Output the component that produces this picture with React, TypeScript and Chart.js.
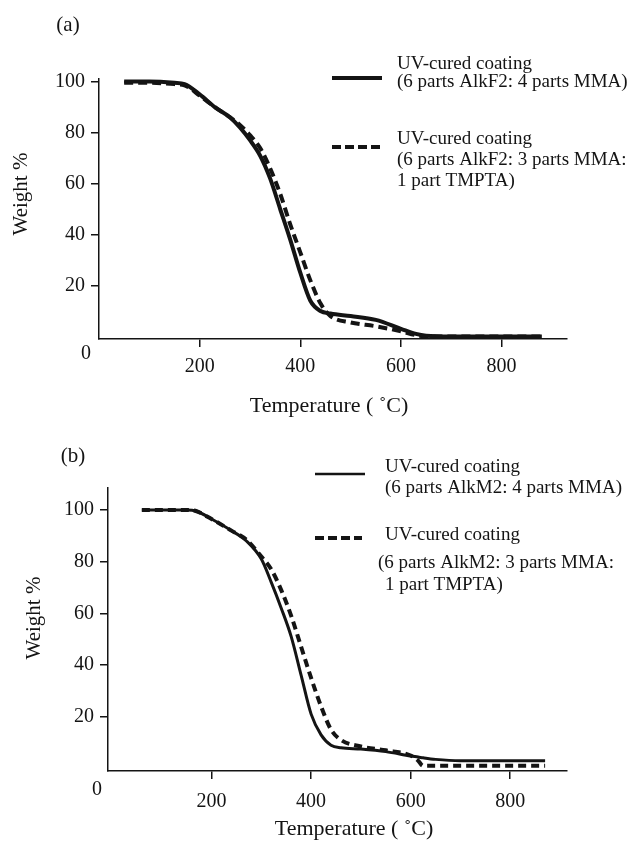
import React, { useEffect, useRef } from "react";
import { Chart, registerables } from "chart.js";

Chart.register(...registerables);

const FONT = "'Liberation Serif', 'Times New Roman', serif";
const INK = "#141414";

// ---- Panel (a) data ----
const tempA = [50, 100, 150, 170, 200, 230, 260, 280, 300, 320, 340, 360, 380, 400, 420, 440, 460, 500, 550, 600, 630, 650, 700, 800, 880];
const solidA = [100, 100, 99.5, 99, 95, 90, 86, 82, 77, 71, 62, 50, 38, 25, 14, 10, 9, 8, 6.5, 3, 1, 0.3, 0, 0, 0];
const dashedA = [99.5, 99.5, 99, 98.5, 94.5, 90, 86, 83, 79, 74, 66, 56, 44, 33, 22, 13, 8, 5.5, 4, 2, 0.5, 0, 0, 0, 0];

// ---- Panel (b) data ----
const tempB = [60, 100, 150, 170, 200, 240, 270, 300, 320, 340, 360, 380, 400, 420, 440, 460, 500, 550, 600, 615, 625, 650, 700, 800, 870];
const solidB = [100, 100, 100, 99.5, 96.5, 92, 88, 81, 72, 62, 51, 36, 21, 13, 9, 8, 7.5, 6.5, 4.8, 4.4, 4.1, 3.5, 3, 3, 3];
const dashedB = [100, 100, 100, 99.5, 96.5, 92, 88.5, 82, 77, 69, 59, 47, 35, 24, 15, 11, 8.5, 7, 5, 3, 1, 1, 1, 1, 1];

const xTicks = [200, 400, 600, 800];
const yTicks = [20, 40, 60, 80, 100];

const legendA = [
  ["UV-cured coating", "(6 parts AlkF2: 4 parts MMA)"],
  ["UV-cured coating", "(6 parts AlkF2: 3 parts MMA:", "1 part TMPTA)"],
];
const legendB = [
  ["UV-cured coating", "(6 parts AlkM2: 4 parts MMA)"],
  ["UV-cured coating", "(6 parts AlkM2: 3 parts MMA:", "1 part TMPTA)"],
];

type Panel = {
  tag: string;
  temps: number[];
  solid: number[];
  dashed: number[];
  legend: string[][];
  height: number;
  xMin: number;
  xMax: number;
  yMin: number;
  yMax: number;
  padTop: number;
  padRight: number;
  yWidth: number;
  xHeight: number;
  xPad: number;
  solidWidth: number;
  dashedWidth: number;
  dash: number[];
  tagPos: [number, number];
  yTitlePos: [number, number];
  xTitlePos: [number, number];
  zeroOff: [number, number];
  legendLayout: {
    sample: [number, number, number, number]; // x1, x2, y, width
    lines: [number, number][]; // x, y per line
  }[];
};

const panels: Panel[] = [
  {
    tag: "(a)",
    temps: tempA,
    solid: solidA,
    dashed: dashedA,
    legend: legendA,
    height: 425,
    xMin: 0,
    xMax: 930,
    yMin: -1,
    yMax: 101,
    padTop: 79,
    padRight: 72,
    yWidth: 99,
    xHeight: 86,
    xPad: 8,
    solidWidth: 4,
    dashedWidth: 4,
    dash: [9, 5],
    tagPos: [68, 25],
    yTitlePos: [21, 194],
    xTitlePos: [329, 406],
    zeroOff: [-13, 15],
    legendLayout: [
      { sample: [332, 382, 78, 4], lines: [[397, 64], [397, 82]] },
      { sample: [332, 382, 147, 4], lines: [[397, 139], [397, 160], [397, 181]] },
    ],
  },
  {
    tag: "(b)",
    temps: tempB,
    solid: solidB,
    dashed: dashedB,
    legend: legendB,
    height: 428,
    xMin: -8,
    xMax: 914,
    yMin: -1,
    yMax: 108.5,
    padTop: 63,
    padRight: 72,
    yWidth: 108,
    xHeight: 82,
    xPad: 11,
    solidWidth: 3,
    dashedWidth: 4,
    dash: [8, 5],
    tagPos: [73, 31],
    yTitlePos: [34, 193],
    xTitlePos: [354, 404],
    zeroOff: [-11, 19],
    legendLayout: [
      { sample: [315, 365, 49, 2.5], lines: [[385, 42], [385, 63]] },
      { sample: [315, 362, 113, 4], lines: [[385, 110], [378, 138], [385, 160]] },
    ],
  },
];

function annotationPlugin(p: Panel) {
  return {
    id: "annot" + p.tag,
    afterDraw(chart: any) {
      const ctx = chart.ctx as CanvasRenderingContext2D;
      const area = chart.chartArea;
      ctx.save();
      ctx.fillStyle = INK;
      ctx.strokeStyle = INK;
      ctx.textBaseline = "middle";

      // panel tag
      ctx.font = `21px ${FONT}`;
      ctx.textAlign = "center";
      ctx.fillText(p.tag, p.tagPos[0], p.tagPos[1]);

      // zero at the corner
      ctx.font = `20px ${FONT}`;
      ctx.fillText("0", area.left + p.zeroOff[0], area.bottom + p.zeroOff[1]);

      // x title
      ctx.font = `22px ${FONT}`;
      ctx.fillText("Temperature ( \u02DAC)", p.xTitlePos[0], p.xTitlePos[1]);

      // y title
      ctx.save();
      ctx.translate(p.yTitlePos[0], p.yTitlePos[1]);
      ctx.rotate(-Math.PI / 2);
      ctx.font = `21px ${FONT}`;
      ctx.fillText("Weight %", 0, 0);
      ctx.restore();

      // legend
      ctx.font = `19px ${FONT}`;
      ctx.textAlign = "left";
      p.legend.forEach((entry, i) => {
        const lay = p.legendLayout[i];
        const [x1, x2, y, w] = lay.sample;
        ctx.beginPath();
        ctx.lineWidth = w;
        ctx.setLineDash(i === 0 ? [] : [9, 4]);
        ctx.moveTo(x1, y);
        ctx.lineTo(x2, y);
        ctx.stroke();
        ctx.setLineDash([]);
        entry.forEach((txt, j) => {
          const [tx, ty] = lay.lines[j];
          ctx.fillText(txt, tx, ty);
        });
      });
      ctx.restore();
    },
  };
}

function PanelChart({ p }: { p: Panel }) {
  const ref = useRef<HTMLCanvasElement | null>(null);
  useEffect(() => {
    if (!ref.current) return;
    const tickFont = { family: FONT, size: 20 };
    const chart = new Chart(ref.current, {
      type: "line",
      data: {
        datasets: [
          {
            label: p.legend[0].join(" "),
            data: p.temps.map((t, i) => ({ x: t, y: p.solid[i] })),
            borderColor: INK,
            borderWidth: p.solidWidth,
            pointRadius: 0,
            cubicInterpolationMode: "monotone",
            fill: false,
          },
          {
            label: p.legend[1].join(" "),
            data: p.temps.map((t, i) => ({ x: t, y: p.dashed[i] })),
            borderColor: INK,
            borderWidth: p.dashedWidth,
            borderDash: p.dash,
            pointRadius: 0,
            cubicInterpolationMode: "monotone",
            fill: false,
          },
        ],
      },
      options: {
        responsive: false,
        animation: false,
        layout: { padding: { top: p.padTop, right: p.padRight, bottom: 0, left: 0 } },
        plugins: { legend: { display: false }, tooltip: { enabled: false }, title: { display: false } },
        scales: {
          x: {
            type: "linear",
            min: p.xMin,
            max: p.xMax,
            afterBuildTicks: (s: any) => {
              s.ticks = xTicks.map((v) => ({ value: v }));
            },
            afterFit: (s: any) => {
              s.height = p.xHeight;
            },
            grid: { drawOnChartArea: false, drawTicks: true, tickLength: 8, color: INK, lineWidth: 1.5 },
            border: { display: true, color: INK, width: 1.5 },
            ticks: { font: tickFont, color: INK, padding: p.xPad, maxRotation: 0, autoSkip: false },
          },
          y: {
            type: "linear",
            min: p.yMin,
            max: p.yMax,
            afterBuildTicks: (s: any) => {
              s.ticks = yTicks.map((v) => ({ value: v }));
            },
            afterFit: (s: any) => {
              s.width = p.yWidth;
            },
            grid: { drawOnChartArea: false, drawTicks: true, tickLength: 8, color: INK, lineWidth: 1.5 },
            border: { display: true, color: INK, width: 1.5 },
            ticks: { font: tickFont, color: INK, padding: 6, autoSkip: false },
          },
        },
      },
      plugins: [annotationPlugin(p)],
    } as any);
    return () => chart.destroy();
  }, [p]);
  return <canvas ref={ref} width={639} height={p.height} style={{ display: "block", width: 639, height: p.height }} />;
}

export default function App() {
  return (
    <div style={{ position: "absolute", left: 0, top: 0, width: 639, height: 853, background: "#fff" }}>
      {panels.map((p) => (
        <PanelChart key={p.tag} p={p} />
      ))}
    </div>
  );
}
